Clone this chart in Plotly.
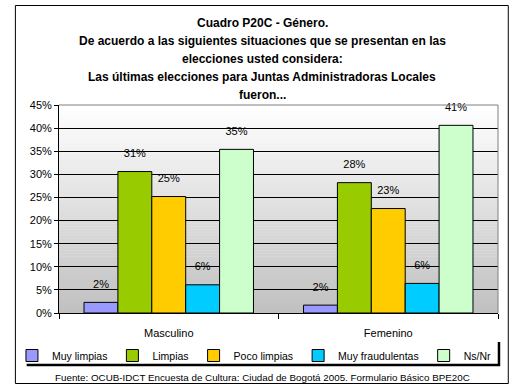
import plotly.graph_objects as go

categories = ["Masculino", "Femenino"]
series_names = ["Muy limpias", "Limpias", "Poco limpias", "Muy fraudulentas", "Ns/Nr"]
series_values = {
    "Muy limpias": [0.023, 0.017],
    "Limpias": [0.306, 0.282],
    "Poco limpias": [0.252, 0.226],
    "Muy fraudulentas": [0.061, 0.064],
    "Ns/Nr": [0.354, 0.406],
}
series_colors = ["#9999ff", "#99cc00", "#ffcc00", "#00ccff", "#ccffcc"]
y_tick_values = [0, 0.05, 0.10, 0.15, 0.20, 0.25, 0.30, 0.35, 0.40, 0.45]
title_lines = [
    "Cuadro P20C - Género.",
    "De acuerdo a las siguientes situaciones que se presentan en las",
    "elecciones usted considera:",
    "Las últimas elecciones para Juntas Administradoras Locales",
    "fueron...",
]
source_text = "Fuente: OCUB-IDCT Encuesta de Cultura: Ciudad de Bogotá 2005. Formulario Básico BPE20C"

W, H = 515, 391
ML, MR, MT, MB = 50, 17, 105, 78
PW, PH = W - ML - MR, H - MT - MB
FONT = "Liberation Sans, Arial, sans-serif"
GAP = 0.228


def px(x):
    return (x - ML) / PW


def py(y):
    return (H - MB - y) / PH


fig = go.Figure()
for name, color in zip(series_names, series_colors):
    fig.add_trace(go.Bar(
        name=name,
        x=categories,
        y=series_values[name],
        marker=dict(color=color, line=dict(color="black", width=1)),
        hoverinfo="x+y+name",
    ))
# value labels, grouped like the bars
for name in series_names:
    fig.add_trace(go.Scatter(
        x=categories,
        y=series_values[name],
        mode="markers+text",
        marker=dict(size=17, opacity=0),
        text=[f"{v:.0%}" for v in series_values[name]],
        textposition="top center",
        textfont=dict(family=FONT, size=11, color="black"),
        showlegend=False,
        hoverinfo="skip",
        cliponaxis=False,
    ))

shapes = []
# gradient plot background
N = 70
for i in range(N):
    t0 = i / N
    t1 = (i + 1) / N
    g = int(round(192 + (255 - 192) * (t0 + t1) / 2))
    shapes.append(dict(type="rect", xref="x domain", yref="y domain",
                       x0=0, x1=1, y0=t0, y1=t1 + 0.002,
                       fillcolor=f"rgb({g},{g},{g})", line=dict(width=0),
                       layer="below"))
# plot area top/right border (gray)
shapes.append(dict(type="line", xref="x domain", yref="y domain",
                   x0=0, x1=1, y0=1, y1=1, line=dict(color="#808080", width=1)))
shapes.append(dict(type="line", xref="x domain", yref="y domain",
                   x0=1, x1=1, y0=0, y1=1, line=dict(color="#808080", width=1)))
# legend shadow lines
shapes.append(dict(type="line", xref="paper", yref="paper",
                   x0=px(17), x1=px(500), y0=py(365), y1=py(365),
                   line=dict(color="black", width=2.5)))
shapes.append(dict(type="line", xref="paper", yref="paper",
                   x0=px(499), x1=px(499), y0=py(342), y1=py(366),
                   line=dict(color="black", width=2.5)))
# outer border
shapes.append(dict(type="rect", xref="paper", yref="paper",
                   x0=px(5.5), x1=px(508.5), y0=py(5.5), y1=py(383.5),
                   line=dict(color="black", width=1), fillcolor="rgba(0,0,0,0)"))

annotations = []
title_y = [23, 41, 59, 77, 95]
for line, yy in zip(title_lines, title_y):
    annotations.append(dict(text=line, xref="paper", yref="paper",
                            x=px(257.5), y=py(yy), xanchor="center", yanchor="middle",
                            showarrow=False,
                            font=dict(family=FONT, size=12, color="black", weight="bold")))
annotations.append(dict(text=source_text, xref="paper", yref="paper",
                        x=px(258), y=py(377), xanchor="center", yanchor="middle",
                        showarrow=False,
                        font=dict(family=FONT, size=9.8, color="black")))

fig.update_layout(
    width=W, height=H,
    margin=dict(l=ML, r=MR, t=MT, b=MB),
    paper_bgcolor="white",
    plot_bgcolor="white",
    barmode="group",
    bargap=GAP,
    bargroupgap=0,
    scattermode="group",
    scattergap=GAP,
    font=dict(family=FONT, size=11, color="black"),
    showlegend=True,
    legend=dict(orientation="h", x=px(2), y=py(341), xanchor="left", yanchor="top",
                font=dict(family=FONT, size=10.5, color="black"),
                bgcolor="rgba(0,0,0,0)", borderwidth=0, traceorder="normal"),
    shapes=shapes,
    annotations=annotations,
    xaxis=dict(showline=True, linecolor="black", linewidth=1,
               ticks="outside", tickson="boundaries", ticklen=5, tickcolor="black",
               ticklabelstandoff=10,
               showgrid=False, tickfont=dict(family=FONT, size=11, color="black")),
    yaxis=dict(range=[0, 0.45], tickvals=y_tick_values, tickformat=".0%",
               showline=True, linecolor="black", linewidth=1,
               ticks="outside", ticklen=4, tickcolor="black",
               showgrid=True, gridcolor="black", gridwidth=1,
               zeroline=False,
               tickfont=dict(family=FONT, size=11, color="black")),
)

fig.write_html("out.html", config={"displayModeBar": False},
               post_script="document.body.style.margin='0';")
